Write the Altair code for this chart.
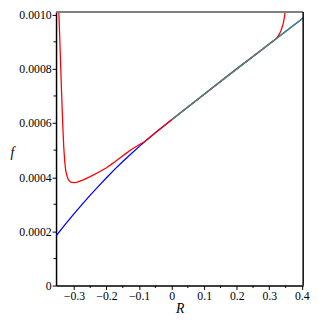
import altair as alt
import pandas as pd

# Blue curve
blue_R = [-0.355, -0.35, -0.325, -0.30, -0.275, -0.25, -0.225, -0.20, -0.175, -0.15,
          -0.125, -0.10, -0.075, -0.05, -0.025, 0.0, 0.05, 0.10, 0.15, 0.20, 0.25,
          0.30, 0.35, 0.40, 0.404]
blue_f = [0.000183, 0.000191, 0.000229, 0.000265, 0.000300, 0.000334, 0.000366, 0.000398,
          0.000429, 0.000458, 0.000486, 0.000513, 0.000539, 0.000564, 0.000588, 0.000612,
          0.000659, 0.000706, 0.000753, 0.000800, 0.000846, 0.000892, 0.000938, 0.000984,
          0.000988]

# Red curve
red_R = [-0.3473, -0.3464, -0.3434, -0.3404, -0.3373, -0.3343, -0.3313, -0.3283, -0.3253,
         -0.3208, -0.3163, -0.3102, -0.3012, -0.2922, -0.271, -0.25, -0.22, -0.20, -0.18,
         -0.16, -0.14, -0.12, -0.10, -0.085, -0.075, -0.05, -0.025, 0.0, 0.10, 0.20, 0.30,
         0.315, 0.325, 0.331, 0.336, 0.341, 0.344, 0.347, 0.350]
red_f = [0.00104, 0.001007, 0.000906, 0.000797, 0.000688, 0.000591, 0.000511, 0.000457,
         0.000424, 0.000402, 0.000389, 0.000382, 0.000380, 0.000381, 0.000390, 0.000402,
         0.000421, 0.000435, 0.000452, 0.000470, 0.000488, 0.000505, 0.000520, 0.000530,
         0.000539, 0.000564, 0.000588, 0.000612, 0.000706, 0.000800, 0.000892, 0.000906,
         0.000917, 0.000929, 0.000942, 0.000959, 0.000974, 0.000995, 0.00103]

# Green curve
green_R = [0.0, 0.05, 0.10, 0.15, 0.20, 0.25, 0.30, 0.35, 0.40, 0.404]
green_f = [0.000612, 0.000659, 0.000706, 0.000753, 0.000800, 0.000846, 0.000892, 0.000938,
           0.000984, 0.000988]

y_major = [0, 0.0002, 0.0004, 0.0006, 0.0008, 0.0010]
y_minor = [0.0001, 0.0003, 0.0005, 0.0007, 0.0009]
x_major = [-0.3, -0.2, -0.1, 0, 0.1, 0.2, 0.3, 0.4]
x_minor = [-0.25, -0.15, -0.05, 0.05, 0.15, 0.25, 0.35]

W, H = 252, 279
FONT = "Liberation Serif"

xs = alt.Scale(domain=[-0.355, 0.404], nice=False, zero=False)
ys = alt.Scale(domain=[0, 0.00101], nice=False, zero=False)

x_axis = alt.Axis(
    values=x_major,
    labelExpr="datum.value == 0 ? '0' : replace(format(datum.value, '.1f'), '-', '\u2212')",
    title="R", titleFontStyle="italic", titleFont=FONT, titleFontSize=14,
    titleFontWeight="normal", titleY=23, titleBaseline="middle",
    labelFont=FONT, labelFontSize=12, labelColor="black", labelPadding=1,
    tickSize=4, tickColor="black", domainColor="black", domainWidth=1.5,
    grid=False, labelFlush=False, labelOverlap=False,
)
y_axis = alt.Axis(
    values=y_major,
    labelExpr="datum.value == 0 ? '0' : format(datum.value, '.4f')",
    title="f", titleFontStyle="italic", titleFont=FONT, titleFontSize=14,
    titleFontWeight="normal", titleAngle=0, titleX=-45, titleY=143,
    titleAlign="center", titleBaseline="middle",
    labelFont=FONT, labelFontSize=12, labelColor="black", labelPadding=1,
    tickSize=4, tickColor="black", domainColor="black", domainWidth=1.5,
    grid=False, labelFlush=False, labelOverlap=False,
)

X = alt.X("R:Q", scale=xs, axis=x_axis)
Y = alt.Y("f:Q", scale=ys, axis=y_axis)

blue_df = pd.DataFrame({"R": blue_R, "f": blue_f})
red_df = pd.DataFrame({"R": red_R, "f": red_f})
green_df = pd.DataFrame({"R": green_R, "f": green_f})

blue = alt.Chart(blue_df).mark_line(color="#0000ff", strokeWidth=1.3, clip=True).encode(x=X, y=Y)
red = alt.Chart(red_df).mark_line(color="#ff0000", strokeWidth=1.3, clip=True).encode(x=X, y=Y)
green = alt.Chart(green_df).mark_line(color="#3c9478", strokeWidth=1.3, clip=True).encode(x=X, y=Y)

ymin_df = pd.DataFrame({"f": y_minor})
xmin_df = pd.DataFrame({"R": x_minor})
ymin = alt.Chart(ymin_df).mark_rule(color="black", strokeWidth=1).encode(
    y=Y, x=alt.value(-2.5), x2=alt.value(0)
)
xmin = alt.Chart(xmin_df).mark_rule(color="black", strokeWidth=1).encode(
    x=X, y=alt.value(H), y2=alt.value(H + 2.5)
)

one = alt.Data(values=[{}])
top = alt.Chart(one).mark_rule(color="#808080", strokeWidth=2).encode(
    x=alt.value(0), x2=alt.value(W), y=alt.value(0)
)
right = alt.Chart(one).mark_rule(color="black", strokeWidth=1.5).encode(
    x=alt.value(W), y=alt.value(0), y2=alt.value(H)
)

chart = alt.layer(blue, red, green, ymin, xmin, top, right).properties(
    width=W, height=H,
    padding={"left": 49, "top": 1, "right": 8, "bottom": 30},
    autosize="none",
    background="white",
).configure_view(stroke=None).configure_axis(
    labelFont=FONT, titleFont=FONT, labelFontSize=12, labelColor="black", titleColor="black"
)

chart.save("out.html", embed_options={"renderer": "svg", "actions": False})
